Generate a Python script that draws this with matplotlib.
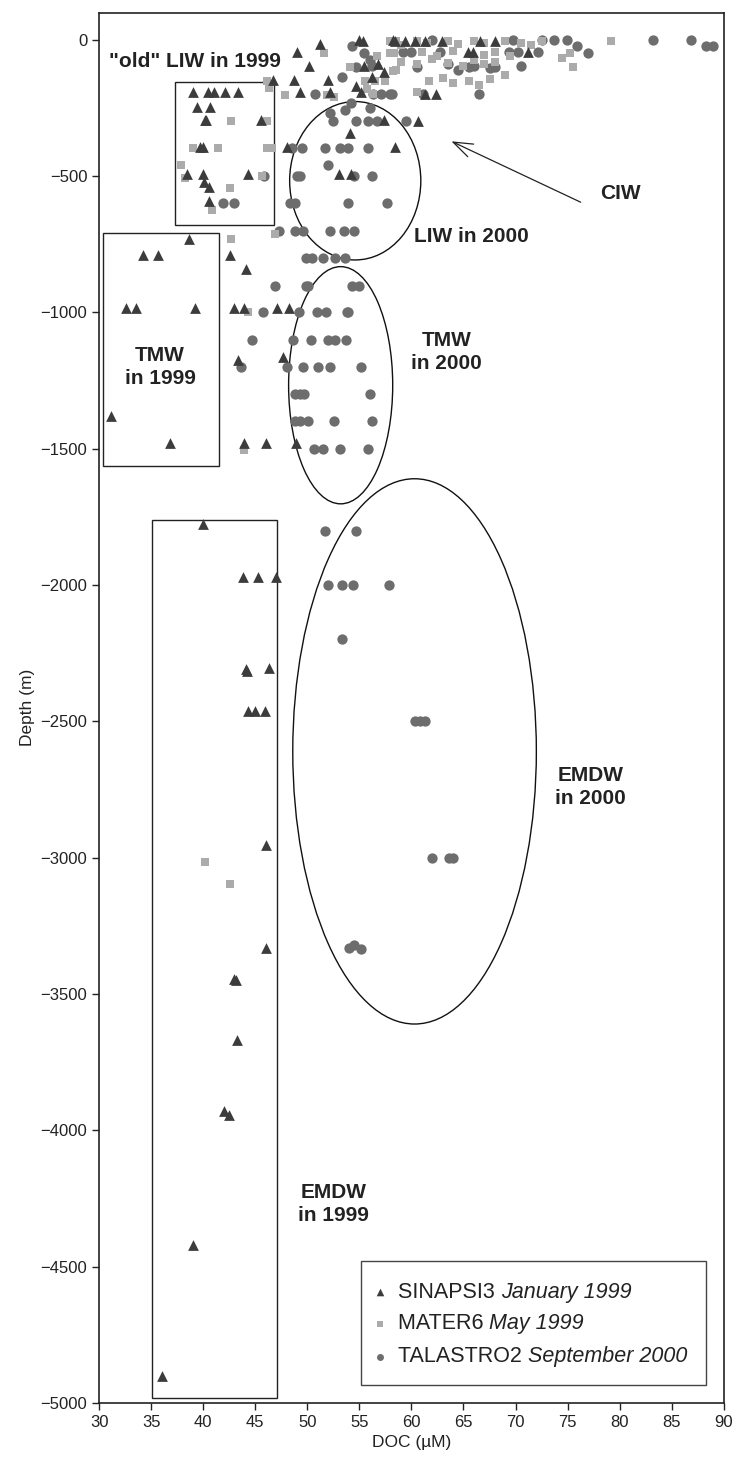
import numpy as np
import matplotlib
matplotlib.use('Agg')
from matplotlib import pyplot as plt
from matplotlib.patches import Ellipse, Rectangle

plt.rcParams['font.family'] = ['Liberation Sans', 'DejaVu Sans']

# SINAPSI3 (January 1999) - triangles
sin_doc = [48.97, 51.2, 50.2, 55.0, 55.3, 58.2, 58.4, 59.4, 60.3, 61.3, 62.9, 66.6, 68.0,
           46.7, 48.7, 52.0, 55.4, 56.8, 57.4, 54.7, 55.2, 49.3, 52.2, 56.2,
           65.45, 65.9, 71.2, 61.3, 62.4, 60.65, 58.4, 54.1, 57.4, 48.0, 53.0, 54.2,
           39.05, 40.5, 41.0, 42.1, 43.3, 39.4, 40.65, 40.2, 40.3, 45.5, 39.7, 39.95,
           38.4, 39.95, 40.1, 40.6, 44.3, 40.6,
           38.6, 34.2, 35.7, 42.6, 44.1, 32.55, 33.55, 39.2, 42.95, 43.9, 47.05, 48.2,
           43.3, 47.7, 31.15, 36.8, 43.95, 46.0, 48.95,
           39.95, 43.8, 45.3, 47.0, 44.15, 44.2, 46.35, 44.3, 44.95, 45.9,
           46.0, 46.0, 43.0, 43.1, 43.2, 42.0, 42.5, 39.0, 36.0]
sin_depth = [-44, -15, -96, 0, -5, 0, -5, -5, -5, -5, -5, -5, -5,
             -147, -147, -147, -95, -90, -117, -171, -190, -193, -193, -138,
             -46, -46, -46, -199, -199, -297, -392, -343, -293, -392, -492, -492,
             -193, -193, -193, -193, -193, -245, -245, -293, -293, -293, -392, -392,
             -492, -492, -520, -541, -492, -590,
             -731, -788, -788, -788, -841, -985, -985, -985, -985, -985, -985, -985,
             -1173, -1165, -1381, -1480, -1480, -1480, -1480,
             -1775, -1971, -1971, -1971, -2306, -2316, -2305, -2463, -2463, -2463,
             -2955, -3330, -3445, -3450, -3670, -3930, -3945, -4420, -4900]

# MATER6 (May 1999) - squares
mat_doc = [51.6, 46.1, 46.3, 47.9, 51.85, 52.6, 54.1, 56.7, 57.9, 57.9, 58.2, 55.5, 56.5,
           57.45, 55.7, 56.3, 42.7, 46.1, 39.05, 41.45, 46.1, 46.6, 37.9, 38.2, 45.6,
           42.6, 40.8, 46.9, 42.7, 44.3, 43.95, 40.2, 42.6, 79.2,
           58.5, 59.0, 60.5, 61.5, 63.5, 64.5, 66.0, 67.0, 69.0, 70.5, 71.5, 72.5,
           58.3, 61.0, 62.5, 64.0, 67.0, 68.0, 69.5, 74.5, 75.2,
           59.0, 60.5, 62.0, 63.5, 65.0, 66.0, 67.0, 68.0, 75.5,
           58.5, 61.7, 63.0, 64.0, 65.5, 66.5, 67.5, 69.0, 60.5]
mat_depth = [-50, -150, -175, -201, -201, -211, -98, -59, -50, -4, -114, -150, -150,
             -150, -180, -198, -297, -297, -397, -397, -397, -397, -461, -507, -499,
             -545, -624, -712, -731, -1000, -1503, -3015, -3095, -5,
             -5, -20, -5, -10, -5, -15, -5, -10, -5, -10, -20, -5,
             -50, -45, -60, -40, -55, -45, -60, -65, -50,
             -80, -90, -70, -85, -95, -75, -90, -80, -100,
             -110, -150, -140, -160, -150, -165, -145, -130, -190]

# TALASTRO2 (September 2000) - circles
tal_doc = [54.25, 55.4, 56.0, 56.2, 53.3, 54.7, 50.7, 56.3, 57.1, 57.9, 52.2, 53.6, 54.2,
           56.0, 52.5, 54.7, 55.85, 56.65, 48.5, 49.5, 51.7, 53.1, 53.9, 55.85, 52.0,
           49.0, 49.3, 54.5, 56.2, 45.8, 41.9, 43.0, 48.3, 48.8, 53.9, 57.7,
           47.3, 48.8, 49.6, 52.2, 53.5, 54.5, 49.9, 50.4, 51.5, 52.65, 53.6,
           46.9, 49.9, 50.1, 54.3, 55.0, 45.7, 49.2, 50.9, 51.8, 53.8, 53.9,
           44.65, 48.65, 50.35, 52.0, 52.65, 53.7, 43.6, 48.0, 49.6, 51.05, 52.2, 55.2,
           48.8, 49.3, 49.7, 56.0, 48.8, 49.3, 50.1, 52.55, 56.2, 50.65, 51.5, 53.1, 55.8,
           51.7, 54.7, 52.0, 53.35, 54.35, 57.85, 53.3,
           60.3, 60.8, 61.3, 62.0, 63.6, 64.0, 54.0, 54.5, 55.2,
           62.0, 69.8, 72.5, 73.7, 74.9, 83.2, 86.9, 88.25, 88.95, 59.2, 60.0, 62.7,
           69.4, 70.2, 72.2, 75.9, 77.0, 58.1, 61.1, 66.5, 59.5,
           60.5, 63.5, 64.5, 65.5, 66.0, 67.5, 68.0, 70.5]
tal_depth = [-22, -49, -75, -95, -138, -99, -199, -199, -199, -199, -270, -258, -230,
             -250, -297, -297, -297, -297, -397, -397, -397, -397, -397, -397, -458,
             -499, -499, -499, -499, -499, -600, -600, -600, -600, -600, -600,
             -700, -700, -700, -700, -700, -700, -800, -800, -800, -800, -800,
             -902, -902, -902, -902, -902, -1000, -1000, -1000, -1000, -1000, -1000,
             -1100, -1100, -1100, -1100, -1100, -1100, -1199, -1199, -1199, -1199, -1199, -1199,
             -1299, -1299, -1299, -1299, -1400, -1400, -1400, -1400, -1400, -1500, -1500, -1500, -1500,
             -1800, -1800, -1999, -1999, -1999, -1999, -2199,
             -2500, -2500, -2500, -3000, -3000, -3000, -3330, -3320, -3335,
             0, 0, 0, 0, 0, 0, 0, -24, -24, -46, -46, -46,
             -46, -46, -46, -24, -47, -199, -199, -199, -297,
             -100, -90, -110, -100, -95, -105, -100, -95]

legend_names = ['SINAPSI3', 'MATER6', 'TALASTRO2']
legend_dates = ['January 1999', 'May 1999', 'September 2000']

fig = plt.figure(figsize=(7.4, 14.59), dpi=100)
ax = fig.add_axes([0.134, 0.0384, 0.844, 0.953])

ax.scatter(tal_doc, tal_depth, marker='o', s=55, color='#6d6d6d', lw=0, zorder=3)
ax.scatter(mat_doc, mat_depth, marker='s', s=40, color='#ababab', lw=0, zorder=3)
ax.scatter(sin_doc, sin_depth, marker='^', s=60, color='#3c3c3c', lw=0, zorder=3)

# water mass boxes and ellipses
for x0, y0, x1, y1 in [(37.3, -678, 46.8, -154), (30.4, -1562, 41.55, -709), (35.1, -4980, 47.05, -1760)]:
    ax.add_patch(Rectangle((x0, y0), x1 - x0, y1 - y0, fill=False, lw=1.0, ec='#222222', zorder=2))
for cx, cy, w, h in [(54.6, -517, 12.6, 581), (53.2, -1267, 10.0, 870), (60.3, -2610, 23.4, 2000)]:
    ax.add_patch(Ellipse((cx, cy), w, h, fill=False, lw=1.0, ec='#111111', zorder=2))

bold = dict(fontsize=15, fontweight='bold', color='#222222')
ax.text(30.9, -80, '"old" LIW in 1999', ha='left', va='center', **bold)
ax.text(35.85, -1200, 'TMW\nin 1999', ha='center', va='center', linespacing=1.3, **bold)
ax.text(60.2, -720, 'LIW in 2000', ha='left', va='center', **bold)
ax.text(63.4, -1145, 'TMW\nin 2000', ha='center', va='center', linespacing=1.3, **bold)
ax.text(77.2, -2740, 'EMDW\nin 2000', ha='center', va='center', linespacing=1.3, **bold)
ax.text(52.5, -4270, 'EMDW\nin 1999', ha='center', va='center', linespacing=1.3, **bold)
ax.text(80.1, -563, 'CIW', ha='center', va='center', **bold)
ax.annotate('', xy=(63.6, -368), xytext=(76.5, -600),
            arrowprops=dict(arrowstyle='->,head_length=1.4,head_width=0.5', lw=0.9, color='#222222'))

# legend drawn as a framed box
ax.add_patch(Rectangle((55.2, -4934), 33.1, 455, fill=False, lw=1.0, ec='#444444', zorder=2))
leg_y = [-4593, -4710, -4831]
ax.scatter([57.0], [leg_y[0]], marker='^', s=30, color='#3c3c3c', lw=0)
ax.scatter([57.0], [leg_y[1]], marker='s', s=22, color='#ababab', lw=0)
ax.scatter([57.0], [leg_y[2]], marker='o', s=25, color='#6d6d6d', lw=0)
for name, date, yy in zip(legend_names, legend_dates, leg_y):
    t = ax.text(58.7, yy, name + ' ', ha='left', va='center', fontsize=15.5, color='#222222')
    ax.annotate(date, xy=(1, 0), xycoords=t, ha='left', va='bottom',
                fontsize=15.5, style='italic', color='#222222')

ax.set_xlim(30, 90)
ax.set_ylim(-5000, 100)
ax.set_xticks(np.arange(30, 91, 5))
ax.set_yticks(np.arange(-5000, 1, 500))
ax.set_yticklabels(['\u2212%d' % abs(v) if v else '0' for v in np.arange(-5000, 1, 500)])
ax.tick_params(labelsize=12, length=5, width=1.0, colors='#222222')
ax.set_xlabel('DOC (\u00b5M)', fontsize=12.5, color='#222222', labelpad=4)
ax.set_ylabel('Depth (m)', fontsize=12.5, color='#222222', labelpad=4)
for sp in ax.spines.values():
    sp.set_linewidth(1.2)
    sp.set_color('#222222')

fig.savefig('out.png', dpi=100)
